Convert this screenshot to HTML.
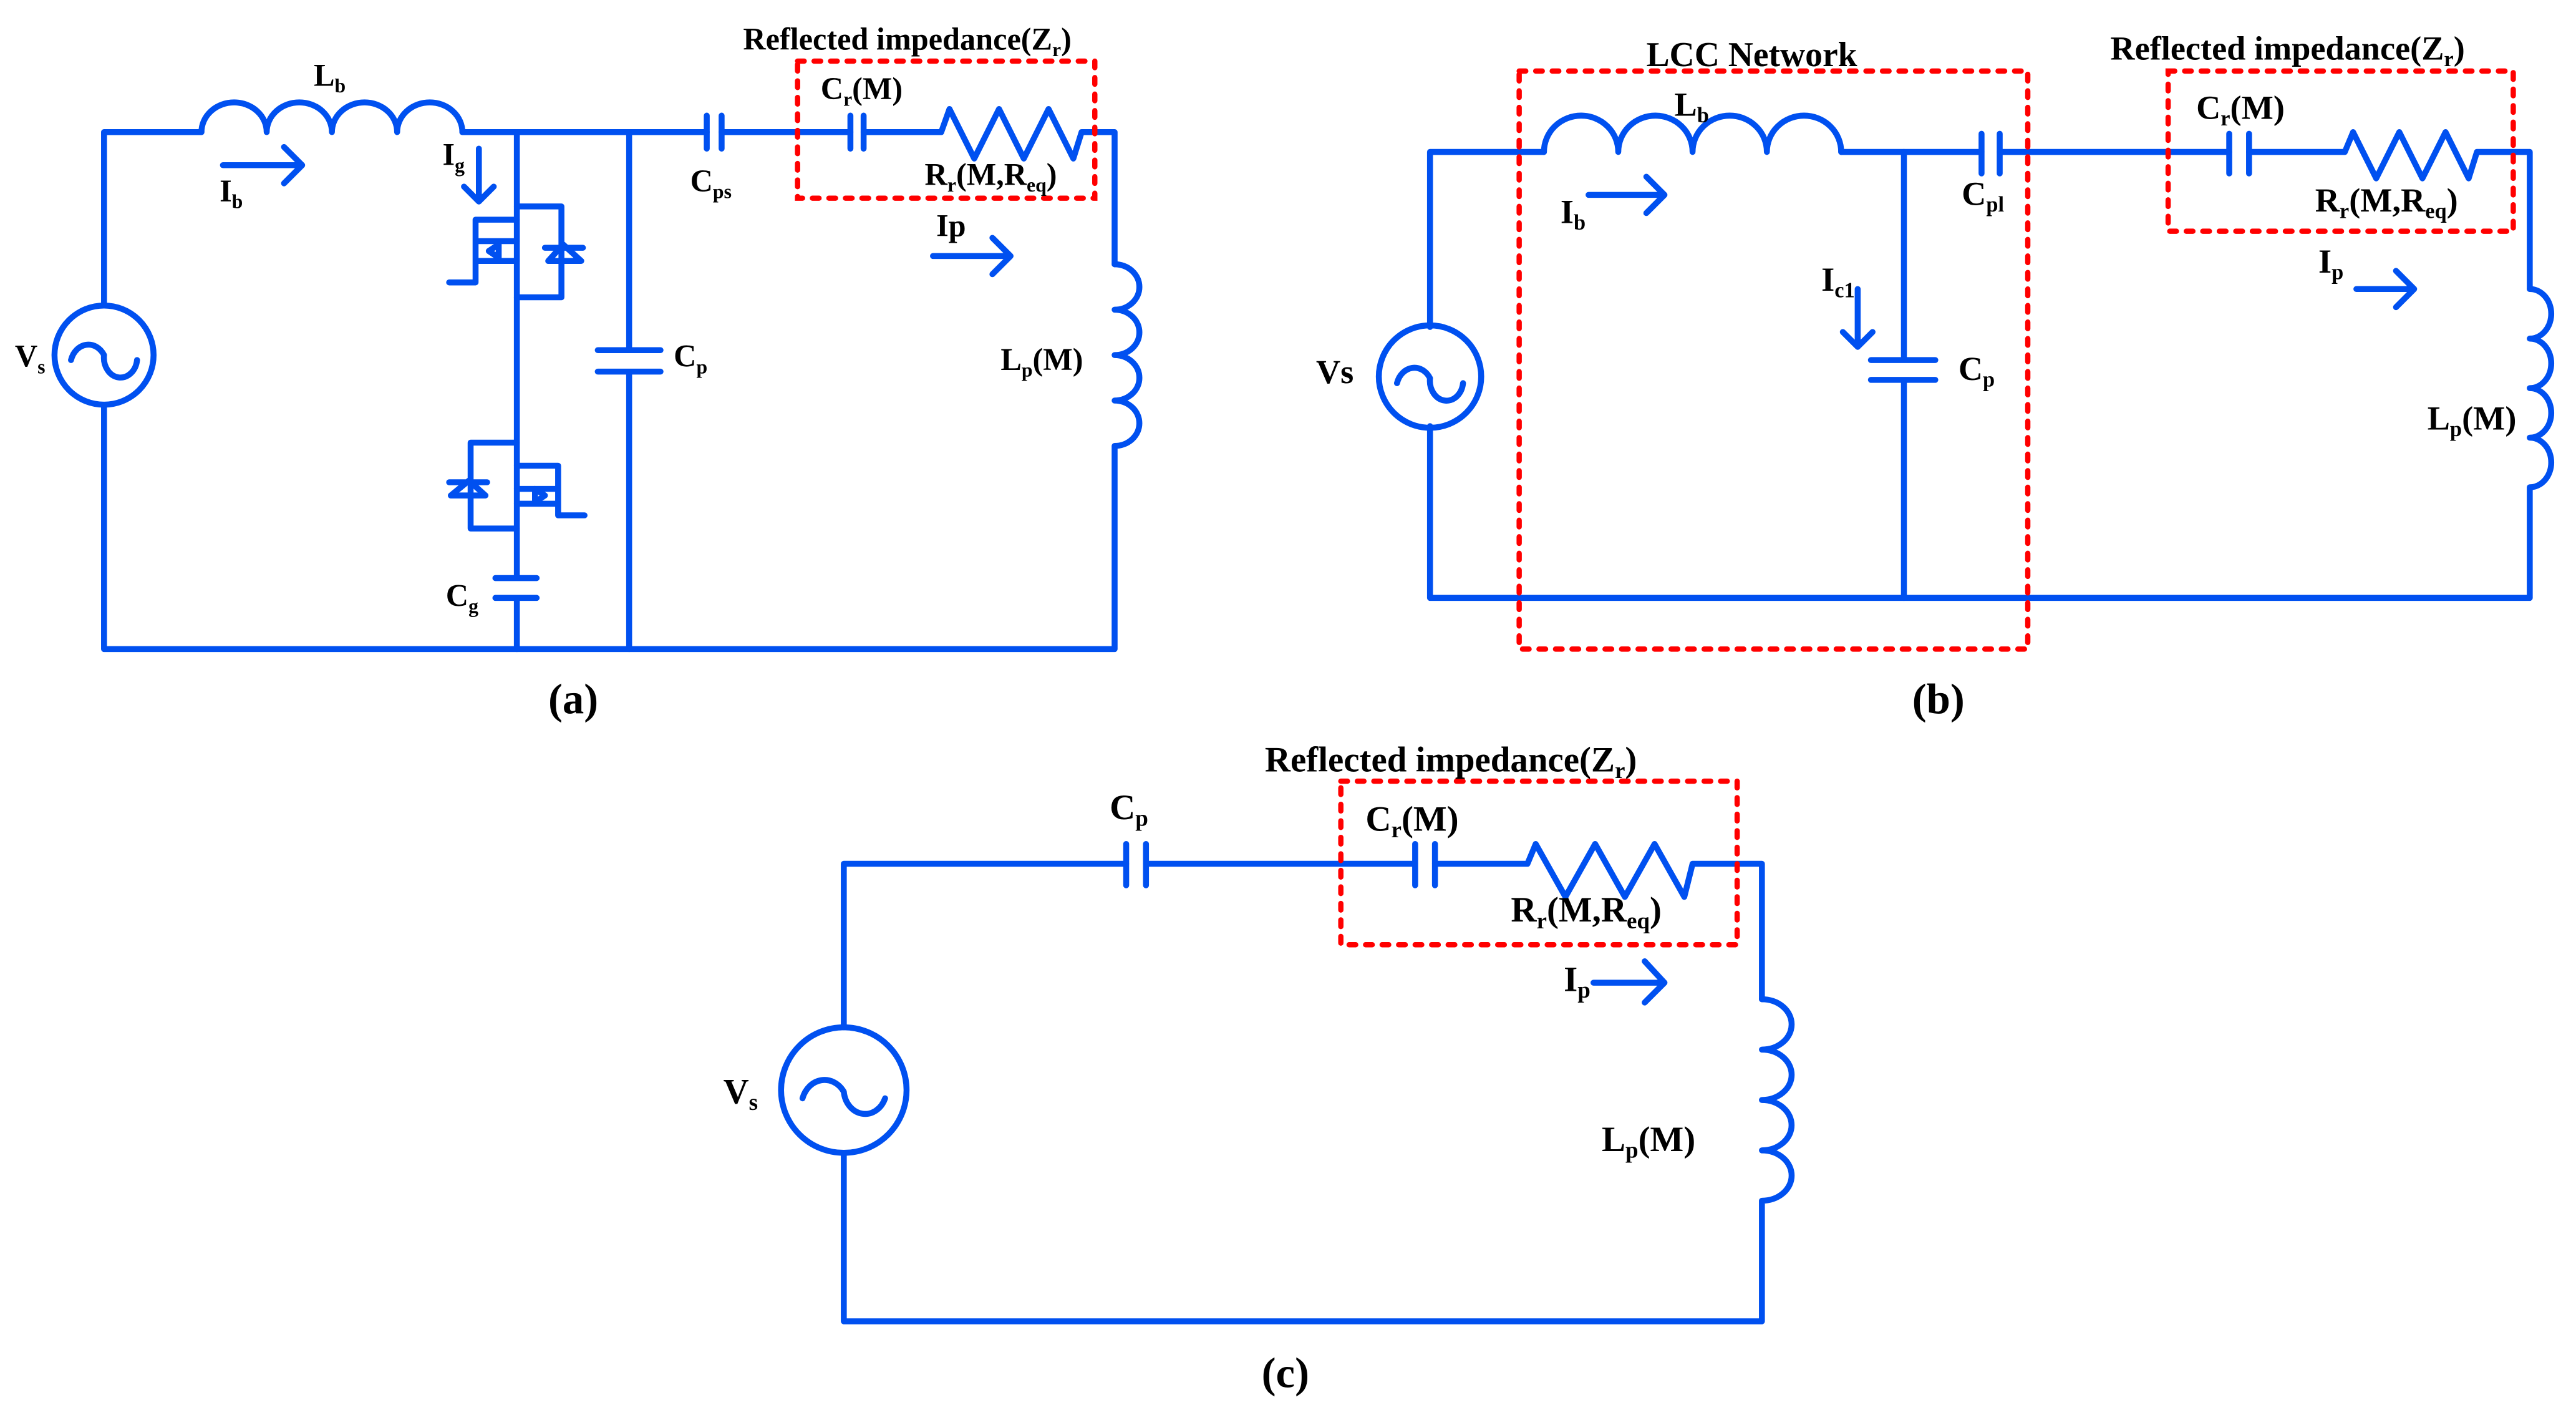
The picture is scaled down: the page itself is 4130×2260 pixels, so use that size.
<!DOCTYPE html>
<html><head><meta charset="utf-8"><style>
html,body{margin:0;padding:0;background:#fff}
svg{display:block}
text{font-family:"Liberation Serif",serif;font-weight:bold;fill:#000}
</style></head><body>
<svg width="4130" height="2260" viewBox="0 0 1560 853.7" preserveAspectRatio="none" xmlns="http://www.w3.org/2000/svg">
<g fill="none" stroke="#0050f0" stroke-width="3.6" stroke-linecap="round" stroke-linejoin="round">
<!-- ===== (a) ===== -->
<path d="M63 185 V80 H122"/>
<path d="M122 80 a19.75 18 0 0 1 39.5 0 a19.75 18 0 0 1 39.5 0 a19.75 18 0 0 1 39.5 0 a19.75 18 0 0 1 39.5 0"/>
<path d="M280 80 H428 M437 80 H515 M523 80 H570 l5 -14 l15 30 l15 -30 l15 30 l15 -30 l15 30 l5 -16 H675 V160"/>
<path d="M428 70 V90 M437 70 V90 M515 70 V90 M523 70 V90"/>
<path d="M675 160 a15 13.75 0 0 1 0 27.5 a15 13.75 0 0 1 0 27.5 a15 13.75 0 0 1 0 27.5 a15 13.75 0 0 1 0 27.5 V393 H63 V245"/>
<circle cx="63" cy="215" r="30"/>
<path d="M43 218 a11 13 0 0 1 20 -3 a10 12 0 0 0 20 3"/>
<path d="M381 80 V212 M381 225 V393 M362 212 H400 M362 225 H400"/>
<path d="M313 80 V350 M313 362 V393 M300 350 H325 M300 362 H325"/>
<path d="M313 125 H340 V180 H313"/>
<path d="M330 150 H353 M332 158 H352 L341 148 Z"/>
<path d="M313 133 H288 V171 H272 M288 146 H313 M288 158 H313"/>
<path d="M296 152 l6 -4 v8 z"/>
<path d="M313 268 H285 V320 H313"/>
<path d="M272 292 H295 M273 300 H294 L284 291 Z"/>
<path d="M313 282 H338 V312 H354 M313 296 H338 M313 305 H338"/>
<path d="M330 300 l-6 -4 v8 z"/>
<path d="M135 100 H183 M172 89 L183 100 L172 111"/>
<path d="M290 90 V122 M281 113 L290 122 L299 113"/>
<path d="M565 155 H612 M601 144 L612 155 L601 166"/>
<!-- ===== (b) ===== -->
<path d="M866 198 V92 H935"/>
<path d="M935 92 a22.5 22 0 0 1 45 0 a22.5 22 0 0 1 45 0 a22.5 22 0 0 1 45 0 a22.5 22 0 0 1 45 0"/>
<path d="M1115 92 H1200 M1211 92 H1350 M1362 92 H1420 l5 -12 l14 28 l14 -28 l14 28 l14 -28 l14 28 l5 -16 H1532 V175"/>
<path d="M1200 81 V105 M1211 81 V105 M1350 81 V105 M1362 81 V105"/>
<path d="M1532 175 a13 15 0 0 1 0 30 a13 15 0 0 1 0 30 a13 15 0 0 1 0 30 a13 15 0 0 1 0 30 V362 H866 V258"/>
<circle cx="866" cy="228" r="31"/>
<path d="M846 232 a11 13 0 0 1 20 -3 a10 12 0 0 0 20 3"/>
<path d="M1153 92 V218 M1153 230 V362 M1133 218 H1172 M1133 230 H1172"/>
<path d="M962 118 H1008 M997 107 L1008 118 L997 129"/>
<path d="M1125 175 V210 M1116 201 L1125 210 L1134 201"/>
<path d="M1427 175 H1462 M1451 164 L1462 175 L1451 186"/>
<!-- ===== (c) ===== -->
<path d="M511 622 V523 H682 M694 523 H857 M869 523 H925 l5 -12 l18 32 l18 -32 l18 32 l18 -32 l18 32 l5 -20 H1067 V605"/>
<path d="M682 511 V536 M694 511 V536 M857 511 V536 M869 511 V536"/>
<path d="M1067 605 a18 15.25 0 0 1 0 30.5 a18 15.25 0 0 1 0 30.5 a18 15.25 0 0 1 0 30.5 a18 15.25 0 0 1 0 30.5 V800 H511 V698"/>
<circle cx="511" cy="660" r="38"/>
<path d="M486 665 a14 16 0 0 1 25 -4 a13 15 0 0 0 25 4"/>
<path d="M965 595 H1008 M996 582 L1008 595 L996 607"/>
</g>
<g fill="none" stroke="#ff0000" stroke-width="3.2" stroke-dasharray="4 6" stroke-linecap="round">
<rect x="483" y="37" width="180" height="83"/>
<rect x="920" y="43" width="308" height="350"/>
<rect x="1313" y="43" width="209" height="97"/>
<rect x="812" y="473" width="240" height="99"/>
</g>
<g font-size="19">
<text x="450" y="30">Reflected impedance(Z<tspan font-size="12" dy="4">r</tspan><tspan dy="-4">)</tspan></text>
<text x="190" y="52">L<tspan font-size="12" dy="4">b</tspan></text>
<text x="133" y="122">I<tspan font-size="12" dy="4">b</tspan></text>
<text x="268" y="100">I<tspan font-size="12" dy="4">g</tspan></text>
<text x="497" y="60">C<tspan font-size="12" dy="4">r</tspan><tspan dy="-4">(M)</tspan></text>
<text x="560" y="112">R<tspan font-size="12" dy="4">r</tspan><tspan dy="-4">(M,R</tspan><tspan font-size="12" dy="4">eq</tspan><tspan dy="-4">)</tspan></text>
<text x="418" y="116">C<tspan font-size="12" dy="4">ps</tspan></text>
<text x="567" y="143">Ip</text>
<text x="408" y="222">C<tspan font-size="12" dy="4">p</tspan></text>
<text x="606" y="224">L<tspan font-size="12" dy="4">p</tspan><tspan dy="-4">(M)</tspan></text>
<text x="9" y="222">V<tspan font-size="12" dy="4">s</tspan></text>
<text x="270" y="367">C<tspan font-size="12" dy="4">g</tspan></text>
</g>
<text x="332" y="432" font-size="26" font-weight="normal">(<tspan font-weight="bold">a</tspan>)</text>
<g font-size="20.5">
<text x="997" y="40" font-size="21">LCC Network</text>
<text x="1278" y="36">Reflected impedance(Z<tspan font-size="13" dy="4">r</tspan><tspan dy="-4">)</tspan></text>
<text x="1014" y="70">L<tspan font-size="13" dy="4">b</tspan></text>
<text x="945" y="135">I<tspan font-size="13" dy="4">b</tspan></text>
<text x="1188" y="124">C<tspan font-size="13" dy="4">pl</tspan></text>
<text x="1330" y="72">C<tspan font-size="13" dy="4">r</tspan><tspan dy="-4">(M)</tspan></text>
<text x="1402" y="128">R<tspan font-size="13" dy="4">r</tspan><tspan dy="-4">(M,R</tspan><tspan font-size="13" dy="4">eq</tspan><tspan dy="-4">)</tspan></text>
<text x="1404" y="165">I<tspan font-size="13" dy="4">p</tspan></text>
<text x="1103" y="176">I<tspan font-size="13" dy="4">c1</tspan></text>
<text x="1186" y="230">C<tspan font-size="13" dy="4">p</tspan></text>
<text x="797" y="232">Vs</text>
<text x="1470" y="260">L<tspan font-size="13" dy="4">p</tspan><tspan dy="-4">(M)</tspan></text>
</g>
<text x="1158" y="432" font-size="26" font-weight="normal">(<tspan font-weight="bold">b</tspan>)</text>
<g font-size="21.5">
<text x="766" y="467">Reflected impedance(Z<tspan font-size="14" dy="4">r</tspan><tspan dy="-4">)</tspan></text>
<text x="672" y="496">C<tspan font-size="14" dy="4">p</tspan></text>
<text x="827" y="503">C<tspan font-size="14" dy="4">r</tspan><tspan dy="-4">(M)</tspan></text>
<text x="915" y="558">R<tspan font-size="14" dy="4">r</tspan><tspan dy="-4">(M,R</tspan><tspan font-size="14" dy="4">eq</tspan><tspan dy="-4">)</tspan></text>
<text x="947" y="600">I<tspan font-size="14" dy="4">p</tspan></text>
<text x="438" y="668">V<tspan font-size="14" dy="4">s</tspan></text>
<text x="970" y="697">L<tspan font-size="14" dy="4">p</tspan><tspan dy="-4">(M)</tspan></text>
</g>
<text x="764" y="840" font-size="26" font-weight="normal">(<tspan font-weight="bold">c</tspan>)</text>
</svg>
</body></html>
